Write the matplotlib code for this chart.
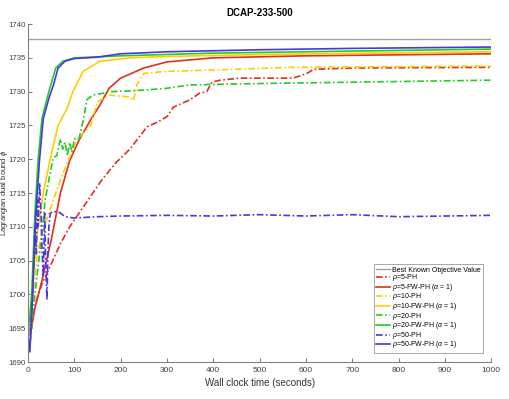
import matplotlib
matplotlib.use("Agg")
import matplotlib.pyplot as plt

plt.rcParams['font.family'] = ['Liberation Sans', 'DejaVu Sans']
plt.rcParams['mathtext.fontset'] = 'custom'
plt.rcParams['mathtext.it'] = 'Liberation Sans:italic'
plt.rcParams['mathtext.rm'] = 'Liberation Sans'

best_known = 1737.8

# rho=5-PH (red dash-dot)
r5_ph_t = [10, 20, 30, 50, 70, 90, 112, 135, 160, 190, 220, 257, 280, 300, 314, 350, 371, 386, 397, 415, 458, 572, 590, 605, 616, 700, 1000]
r5_ph_v = [1697, 1699.5, 1701.5, 1704.5, 1707.5, 1710, 1712.2, 1714.5, 1717, 1719.5, 1721.5, 1724.8, 1725.5, 1726.3, 1727.7, 1728.8, 1729.8, 1730, 1731.4, 1731.7, 1732, 1732, 1732.4, 1732.8, 1733.3, 1733.5, 1733.6]

# rho=5-FW-PH (red solid)
r5_fw_t = [5, 15, 30, 50, 70, 90, 110, 135, 155, 175, 200, 250, 300, 400, 600, 1000]
r5_fw_v = [1694, 1698, 1702, 1708, 1715, 1719.8, 1722.8, 1725.8, 1728, 1730.5, 1732, 1733.5, 1734.4, 1735, 1735.3, 1735.6]

# rho=10-PH (yellow dash-dot)
r10_ph_t = [5, 12, 20, 30, 40, 55, 70, 105, 135, 150, 175, 220, 228, 235, 250, 300, 400, 570, 1000]
r10_ph_v = [1695, 1700, 1706, 1709, 1711, 1714, 1717, 1722.8, 1725, 1728.5, 1729.5, 1729.2, 1728.7, 1731, 1732.7, 1733, 1733.2, 1733.6, 1733.8]

# rho=10-FW-PH (yellow solid)
r10_fw_t = [3, 10, 20, 33, 48, 65, 84, 97, 119, 155, 220, 300, 500, 1000]
r10_fw_v = [1694.5, 1702, 1709, 1715, 1720, 1725, 1727.5, 1730, 1733, 1734.5, 1735, 1735.2, 1735.5, 1735.9]

# rho=20-PH (green dash-dot)
r20_ph_t = [5, 10, 20, 30, 37, 48, 55, 62, 70, 75, 80, 85, 90, 95, 100, 110, 120, 127, 140, 180, 220, 263, 300, 350, 500, 700, 1000]
r20_ph_v = [1693, 1697, 1703, 1709, 1714, 1718, 1720.3, 1720.5, 1723, 1721.5, 1722.5, 1720.5, 1722.5, 1721, 1723, 1723, 1726, 1728.8, 1729.5, 1730, 1730.1, 1730.3, 1730.5, 1731, 1731.2, 1731.4, 1731.7]

# rho=20-FW-PH (green solid)
r20_fw_t = [0, 8, 15, 22, 30, 45, 60, 75, 100, 200, 400, 700, 1000]
r20_fw_v = [1694, 1700, 1712, 1720, 1726, 1730, 1733.5, 1734.5, 1735, 1735.3, 1735.7, 1736, 1736.3]

# rho=50-PH (blue dash-dot)
r50_ph_t = [5, 10, 15, 18, 20, 22, 25, 28, 30, 33, 36, 38, 41, 43, 45, 48, 55, 69, 80, 100, 150, 200, 300, 400, 500, 600, 700, 800, 900, 1000]
r50_ph_v = [1694, 1700, 1710, 1706, 1714, 1710, 1716.5, 1712, 1707.5, 1702.6, 1712, 1705, 1699.2, 1706, 1710, 1712, 1712.3, 1712.1, 1711.5, 1711.3, 1711.5, 1711.6, 1711.7, 1711.6, 1711.8, 1711.6, 1711.8, 1711.5, 1711.6, 1711.7]

# rho=50-FW-PH (blue solid)
r50_fw_t = [0, 4, 10, 17, 25, 33, 45, 55, 65, 80, 100, 150, 200, 300, 500, 700, 1000]
r50_fw_v = [1694, 1691.5, 1700, 1712, 1720, 1726, 1729, 1731, 1733.5, 1734.5, 1734.9, 1735.1, 1735.6, 1735.9, 1736.2, 1736.4, 1736.6]

red = '#e0301e'
yellow = '#ffcc00'
green = '#22cc22'
blue = '#4a35e0'
gray = '#a0a0a0'
dd = (0, (4, 1.5, 1, 1.5))

fig = plt.figure(figsize=(5.09, 3.99), dpi=100)
ax = fig.add_axes([0.055, 0.0927, 0.91, 0.847])

lw = 1.2
ax.plot([0, 1000], [best_known, best_known], color=gray, lw=1.0, label='Best Known Objective Value')
ax.plot(r5_ph_t, r5_ph_v, color=red, lw=lw, ls=dd, label=r'$\rho$=5-PH')
ax.plot(r5_fw_t, r5_fw_v, color=red, lw=lw, label=r'$\rho$=5-FW-PH ($\alpha$ = 1)')
ax.plot(r10_ph_t, r10_ph_v, color=yellow, lw=lw, ls=dd, label=r'$\rho$=10-PH')
ax.plot(r10_fw_t, r10_fw_v, color=yellow, lw=lw, label=r'$\rho$=10-FW-PH ($\alpha$ = 1)')
ax.plot(r20_ph_t, r20_ph_v, color=green, lw=lw, ls=dd, label=r'$\rho$=20-PH')
ax.plot(r20_fw_t, r20_fw_v, color=green, lw=lw, label=r'$\rho$=20-FW-PH ($\alpha$ = 1)')
ax.plot(r50_ph_t, r50_ph_v, color=blue, lw=lw, ls=dd, label=r'$\rho$=50-PH')
ax.plot(r50_fw_t, r50_fw_v, color=blue, lw=lw, label=r'$\rho$=50-FW-PH ($\alpha$ = 1)')

ax.set_xlim(0, 1000)
ax.set_ylim(1690, 1740)
ax.set_xticks(range(0, 1001, 100))
ax.set_yticks(range(1690, 1741, 5))
for s in ['top', 'right']:
    ax.spines[s].set_visible(False)
for s in ['left', 'bottom']:
    ax.spines[s].set_color('#808080')
    ax.spines[s].set_linewidth(0.8)
ax.tick_params(direction='in', length=3, width=0.6, color='#606060', labelsize=6, labelcolor='#404040')
ax.tick_params(axis='y', pad=1.5, labelsize=5.6)

ax.set_title('DCAP-233-500', fontsize=7, fontweight='bold', pad=6)
ax.set_xlabel('Wall clock time (seconds)', fontsize=7, color='#333333', labelpad=3)
ax.set_ylabel(r'Lagrangian dual bound $\phi$', fontsize=5.5, color='#333333')
ax.yaxis.set_label_coords(-0.039, 0.5)

leg = ax.legend(loc='lower right', bbox_to_anchor=(0.983, 0.027), bbox_transform=ax.transAxes,
                borderaxespad=0, fontsize=5, fancybox=False, framealpha=1,
                edgecolor='#999999', handlelength=2.0, labelspacing=-0.2, borderpad=0.35,
                handletextpad=0.3, handleheight=0.5)
leg.get_frame().set_linewidth(0.6)

fig.savefig('out.png', dpi=100)
